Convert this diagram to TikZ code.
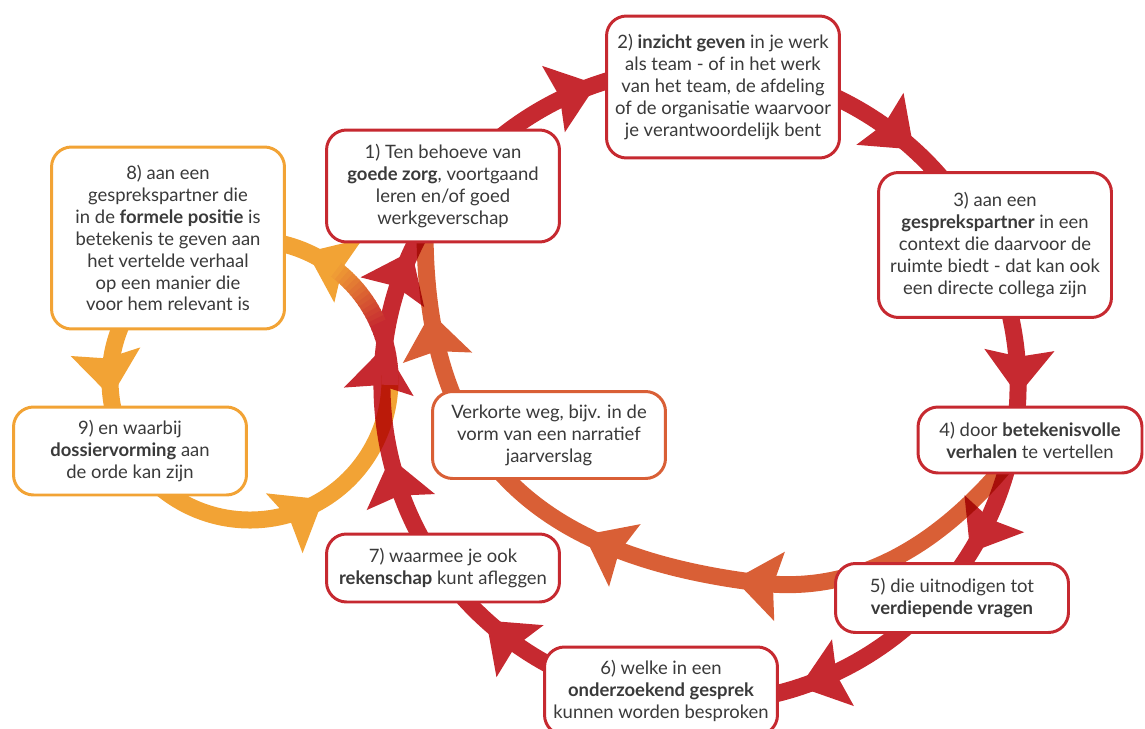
\documentclass[tikz,border=0pt]{standalone}
\usepackage{fontspec}
\setmainfont{Lato}
\usetikzlibrary{arrows.meta,decorations.markings}

\begin{document}
\begin{tikzpicture}[x=0.02cm, y=-0.02cm,
  >={Stealth[length=0.9cm, width=1.36cm, inset=0.12cm]},
  vak/.style={draw, fill=white, rounded corners=0.4cm, line width=1.7pt,
    align=center, minimum width=4.66cm, inner sep=2pt, text=tekst,
    font=\fontsize{10.5}{12.5}\selectfont},
  lijn/.style={line width=0.34cm, postaction={decorate}}]

% Kleuren
\definecolor{rood}{HTML}{C62930}
\definecolor{oranje}{HTML}{D95F36}
\definecolor{geel}{HTML}{F2A335}
\definecolor{tekst}{HTML}{3A3A3A}

\useasboundingbox (0,0) rectangle (1145,729);

% Gele lus (stap 8 en 9)
\draw[geel, lijn, decoration={markings,
    mark=at position 0.036 with {\arrow{>}},
    mark=at position 0.430 with {\arrow{>}},
    mark=at position 0.803 with {\arrow{>}}}]
  (250,380) ++(-55:140) arc[start angle=-55, end angle=-362, radius=140];

% Verkorte weg
\draw[oranje, lijn, decoration={markings,
    mark=at position 0.37 with {\arrow{>}},
    mark=at position 0.56 with {\arrow{>}},
    mark=at position 0.90 with {\arrow{>}}}]
  (1003,468) .. controls (950,530) and (870,596) .. (760,583)
  .. controls (530,555) and (425,450) .. (425,230);

% Rode cirkel (stap 1 t/m 7)
\begin{scope}[blend mode=multiply]
\begin{scope}[transparency group]
\draw[rood, lijn, decoration={markings,
    mark=at position 0.114 with {\arrow{>}},
    mark=at position 0.284 with {\arrow{>}},
    mark=at position 0.422 with {\arrow{>}},
    mark=at position 0.505 with {\arrow{>}},
    mark=at position 0.616 with {\arrow{>}},
    mark=at position 0.784 with {\arrow{>}},
    mark=at position 0.880 with {\arrow{>}},
    mark=at position 0.936 with {\arrow{>}},
    mark=at position 0.986 with {\arrow{>}}}]
  (700,385) ++(-150:318) arc[start angle=-150, end angle=210, radius=318];
\end{scope}
\end{scope}

% Overgang rood naar geel
\foreach \a in {2,0,...,-56}{
  \pgfmathtruncatemacro\p{min(100,max(0,(\a+52)*10/3))}
  \draw[rood!\p!geel, line width=0.34cm]
    (250,380) ++(\a:140) arc[start angle=\a, end angle=\a-2.6, radius=140];
}

% Stappen
\node[vak, draw=rood, minimum height=2.24cm] (stap1) at (443,186)
  {1) Ten behoeve van\\ \textbf{goede zorg}, voortgaand\\ leren en/of goed\\ werkgeverschap};
\node[vak, draw=rood, minimum height=2.84cm] (stap2) at (723,87)
  {2) \textbf{inzicht geven} in je werk\\ als team - of in het werk\\ van het team, de afdeling\\ of de organisatie waarvoor\\ je verantwoordelijk bent};
\node[vak, draw=rood, minimum height=2.9cm] (stap3) at (995,245)
  {3) aan een\\ \textbf{gesprekspartner} in een\\ context die daarvoor de\\ ruimte biedt - dat kan ook\\ een directe collega zijn};
\node[vak, draw=rood, minimum width=4.48cm, minimum height=1.32cm] (stap4) at (1030,440)
  {4) door \textbf{betekenisvolle}\\ \textbf{verhalen} te vertellen};
\node[vak, draw=rood, minimum height=1.38cm] (stap5) at (952,598)
  {5) die uitnodigen tot\\ \textbf{verdiepende vragen}};
\node[vak, draw=rood, minimum height=1.76cm] (stap6) at (661,691)
  {6) welke in een\\ \textbf{onderzoekend gesprek}\\ kunnen worden besproken};
\node[vak, draw=rood, minimum height=1.36cm] (stap7) at (443,568)
  {7) waarmee je ook\\ \textbf{rekenschap} kunt afleggen};
\node[vak, draw=geel, minimum height=3.64cm] (stap8) at (168,238)
  {8) aan een\\ gesprekspartner die\\ in de \textbf{formele positie} is\\ betekenis te geven aan\\ het vertelde verhaal\\ op een manier die\\ voor hem relevant is};
\node[vak, draw=geel, minimum height=1.76cm] (stap9) at (130,451)
  {9) en waarbij\\ \textbf{dossiervorming} aan\\ de orde kan zijn};
\node[vak, draw=oranje, minimum height=1.74cm] (verkort) at (549,435)
  {Verkorte weg, bijv. in de\\ vorm van een narratief\\ jaarverslag};
\end{tikzpicture}
\end{document}
